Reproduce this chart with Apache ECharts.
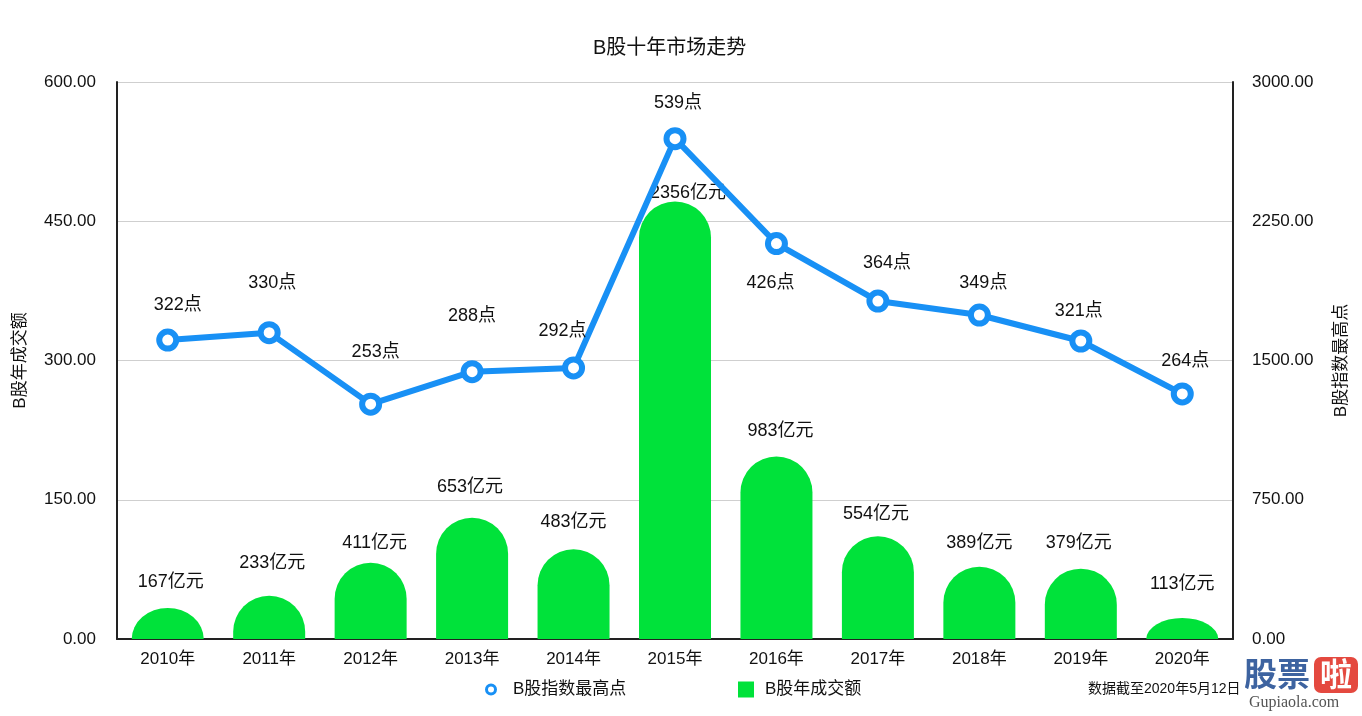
<!DOCTYPE html>
<html>
<head>
<meta charset="utf-8">
<title>B股十年市场走势</title>
<script src="https://cdn.jsdelivr.net/npm/echarts@6/dist/echarts.min.js"></script>
<style>
  html, body { margin: 0; padding: 0; background: #fff; }
  #chart { width: 1362px; height: 716px; }
</style>
</head>
<body>
<div id="chart"></div>
<script>
// 数据
const years = ['2010年', '2011年', '2012年', '2013年', '2014年', '2015年', '2016年', '2017年', '2018年', '2019年', '2020年'];
const indexHigh = [322, 330, 253, 288, 292, 539, 426, 364, 349, 321, 264];      // B股指数最高点
const turnover = [167, 233, 411, 653, 483, 2356, 983, 554, 389, 379, 113];      // B股年成交额(亿元)

// 标签微调 [dx, dy]
const lineLabelNudge = [[10, -35], [3, -50], [5, -52], [0, -56], [-11, -37], [3, -36], [-6, 40], [9, -38], [4, -32], [-2, -30], [3, -33]];
const barLabelNudge = [[3, -26], [3, -33], [4, -20], [-2, -31], [0, -27], [13, -9], [4, -25], [-2, -22], [0, -24], [-2, -26], [0, -34]];

const FONT = "'Liberation Sans', 'Noto Sans CJK SC', sans-serif";
const BLUE = '#1890f5';
const GREEN = '#00e23a';
const AXIS = '#222';
const BAR_W = 72;

const myChart = echarts.init(document.getElementById('chart'));

// 圆顶柱子：顶部为半椭圆，矮柱子压扁成穹顶
function renderDomeBar(params, api) {
    const idx = api.value(0);
    const val = api.value(1);
    const top = api.coord([idx, val]);
    const base = api.coord([idx, 0]);
    const rx = BAR_W / 2;
    const h = base[1] - top[1];
    const ry = Math.min(rx, h);
    const l = top[0] - rx;
    const r = top[0] + rx;
    const shoulder = top[1] + ry;
    const pathData = 'M' + l + ' ' + base[1] +
        ' L' + l + ' ' + shoulder +
        ' A' + rx + ' ' + ry + ' 0 0 1 ' + r + ' ' + shoulder +
        ' L' + r + ' ' + base[1] + ' Z';
    const nudge = barLabelNudge[params.dataIndex];
    return {
        type: 'group',
        children: [
            {
                type: 'path',
                shape: { pathData: pathData },
                style: { fill: GREEN }
            },
            {
                type: 'text',
                x: top[0] + nudge[0],
                y: top[1] + nudge[1],
                z2: 10,
                style: {
                    text: val + '亿元',
                    fontSize: 18,
                    fill: '#111',
                    fontFamily: FONT,
                    align: 'center',
                    verticalAlign: 'middle'
                }
            }
        ]
    };
}

const option = {
    backgroundColor: '#fff',
    textStyle: { fontFamily: FONT },
    animation: false,
    title: {
        text: 'B股十年市场走势',
        left: 593,
        top: 38,
        padding: 0,
        textStyle: { fontSize: 20, fontWeight: 'normal', color: '#111', fontFamily: FONT }
    },
    legend: [
        {
            data: [{
                name: 'B股指数最高点',
                icon: 'circle',
                itemStyle: { color: '#fff', borderColor: BLUE, borderWidth: 3 }
            }],
            left: 485,
            top: 681,
            padding: 0,
            itemWidth: 34,
            itemHeight: 9,
            textStyle: { fontSize: 17, color: '#111', fontFamily: FONT }
        },
        {
            data: [{ name: 'B股年成交额', icon: 'rect', itemStyle: { color: GREEN } }],
            left: 738,
            top: 681,
            padding: 0,
            itemWidth: 16,
            itemHeight: 16,
            textStyle: { fontSize: 17, color: '#111', fontFamily: FONT, padding: [0, 0, 0, 6] }
        }
    ],
    grid: { left: 117, right: 129, top: 82, bottom: 77, containLabel: false },
    xAxis: {
        type: 'category',
        data: years,
        axisLine: { lineStyle: { color: AXIS, width: 2 } },
        axisTick: { show: false },
        axisLabel: { fontSize: 17, color: '#111', margin: 12, fontFamily: FONT }
    },
    yAxis: [
        {
            type: 'value',
            name: 'B股年成交额',
            nameLocation: 'middle',
            nameGap: 88,
            nameRotate: 90,
            nameTextStyle: { fontSize: 17, color: '#111', fontFamily: FONT },
            min: 0,
            max: 600,
            interval: 150,
            axisLine: { show: true, lineStyle: { color: AXIS, width: 2 } },
            axisTick: { show: false },
            axisLabel: {
                fontSize: 17, color: '#111', margin: 21, fontFamily: FONT,
                formatter: v => v.toFixed(2)
            },
            splitLine: { lineStyle: { color: '#cfcfcf', width: 1 } }
        },
        {
            type: 'value',
            name: 'B股指数最高点',
            nameLocation: 'middle',
            nameGap: 100,
            nameRotate: 90,
            nameTextStyle: { fontSize: 17, color: '#111', fontFamily: FONT },
            min: 0,
            max: 3000,
            interval: 750,
            axisLine: { show: true, lineStyle: { color: AXIS, width: 2 } },
            axisTick: { show: false },
            axisLabel: {
                fontSize: 17, color: '#111', margin: 19, fontFamily: FONT,
                formatter: v => v.toFixed(2)
            },
            splitLine: { show: false }
        }
    ],
    series: [
        {
            name: 'B股年成交额',
            type: 'custom',
            yAxisIndex: 1,
            itemStyle: { color: GREEN },
            z: 2,
            encode: { x: 0, y: 1 },
            data: turnover.map((v, i) => [i, v]),
            renderItem: renderDomeBar
        },
        {
            name: 'B股指数最高点',
            type: 'line',
            yAxisIndex: 0,
            symbol: 'circle',
            symbolSize: 17,
            lineStyle: { color: BLUE, width: 6 },
            itemStyle: { color: '#fff', borderColor: BLUE, borderWidth: 6 },
            z: 3,
            data: indexHigh.map((v, i) => ({
                value: v,
                label: { offset: lineLabelNudge[i] }
            })),
            label: {
                show: true,
                position: 'inside',
                fontSize: 18,
                color: '#111',
                fontFamily: FONT,
                formatter: p => p.value + '点'
            }
        }
    ],
    graphic: [
        {
            type: 'text',
            left: 1088,
            top: 682,
            style: { text: '数据截至2020年5月12日', fontSize: 14, fill: '#111', fontFamily: FONT }
        },
        {
            type: 'group',
            left: 1244,
            top: 657,
            children: [
                {
                    type: 'text',
                    x: 0, y: 2,
                    style: { text: '股票', fontSize: 33, fontWeight: 'bold', fill: '#3d63a0', fontFamily: "'Noto Sans CJK SC', sans-serif" }
                },
                {
                    type: 'rect',
                    shape: { x: 70, y: 2, width: 44, height: 36, r: 7 },
                    style: { fill: '#e4493f' }
                },
                {
                    type: 'text',
                    x: 76, y: 3,
                    style: { text: '啦', fontSize: 32, fontWeight: 'bold', fill: '#fff', fontFamily: "'Noto Sans CJK SC', sans-serif" }
                },
                {
                    type: 'text',
                    x: 5, y: 40,
                    style: { text: 'Gupiaola.com', fontSize: 16, fill: '#555', fontFamily: "'Liberation Serif', 'DejaVu Serif', serif" }
                }
            ]
        }
    ]
};

myChart.setOption(option, true);
window.addEventListener('resize', () => myChart.resize());
</script>
</body>
</html>
